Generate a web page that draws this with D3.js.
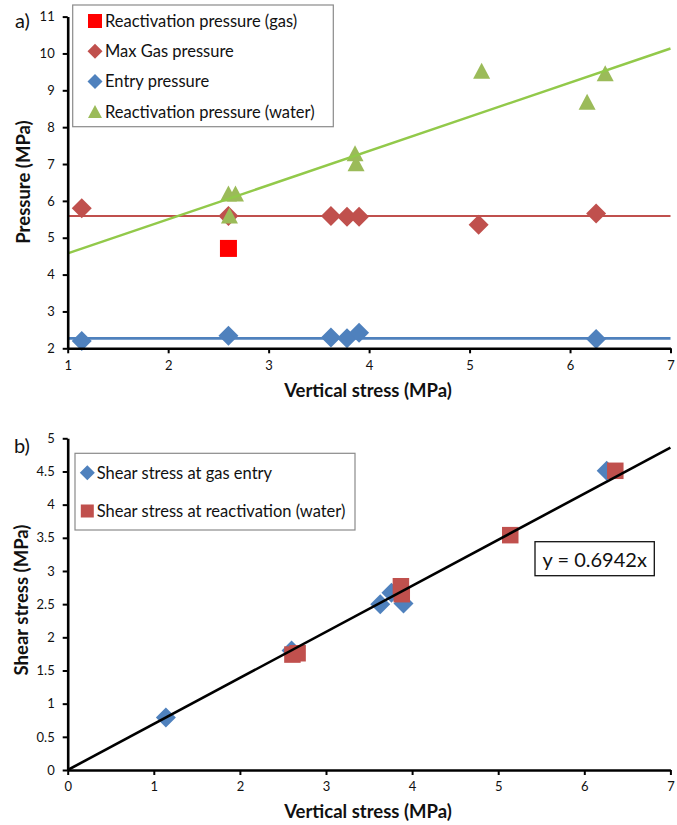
<!DOCTYPE html>
<html>
<head>
<meta charset="utf-8">
<script src="https://cdn.jsdelivr.net/npm/d3@7"></script>
<style>
  html, body { margin: 0; padding: 0; background: #fff; }
  svg { display: block; font-family: Lato, "Open Sans", sans-serif; }
  .axis path.domain { stroke: #000; stroke-width: 2.6px; }
  .axis line { stroke: #000; stroke-width: 2px; }
  .axis text { font-size: 13px; fill: #111; font-family: Lato, "Open Sans", sans-serif; }
</style>
</head>
<body>
<svg id="chart" width="677" height="825"></svg>
<script>
// ---- Panel a: pressures vs vertical stress ----
const xGasReact = [2.60];
const yGasReact = [4.71];

const xMaxGas = [1.14, 2.60, 3.62, 3.78, 3.90, 5.09, 6.26];
const yMaxGas = [5.80, 5.59, 5.59, 5.57, 5.57, 5.35, 5.66];

const xEntry = [1.14, 2.60, 3.62, 3.78, 3.90, 6.26];
const yEntry = [2.20, 2.34, 2.29, 2.27, 2.42, 2.25];

const xWaterReact = [2.60, 2.67, 2.61, 3.86, 3.87, 5.12, 6.17, 6.35];
const yWaterReact = [6.20, 6.20, 5.60, 7.29, 7.02, 9.53, 8.69, 9.46];

// horizontal reference levels
const maxGasLevel = 5.59;
const entryLevel = 2.27;

const xTicksA = [1, 2, 3, 4, 5, 6, 7];
const yTicksA = [2, 3, 4, 5, 6, 7, 8, 9, 10, 11];

// ---- Panel b: shear stress vs vertical stress ----
const xShearEntry = [1.14, 2.60, 3.63, 3.76, 3.90, 6.26];
const yShearEntry = [0.79, 1.80, 2.50, 2.67, 2.51, 4.51];

const xShearReact = [2.61, 2.67, 3.87, 3.88, 5.14, 6.36];
const yShearReact = [1.74, 1.76, 2.77, 2.65, 3.54, 4.51];

const shearSlope = 0.6942;

const xTicksB = [0, 1, 2, 3, 4, 5, 6, 7];
const yTicksB = [0, 0.5, 1, 1.5, 2, 2.5, 3, 3.5, 4, 4.5, 5];

const C = {
  red: "#FF0000",
  brick: "#C0504D",
  blue: "#4F81BD",
  green: "#9BBB59",
  greenLine: "#92C94A"
};

const svg = d3.select("#chart");

function diamond(g, cx, cy, r, fill) {
  g.append("path")
    .attr("d", `M${cx},${cy - r}L${cx + r},${cy}L${cx},${cy + r}L${cx - r},${cy}Z`)
    .attr("fill", fill);
}
function square(g, cx, cy, s, fill) {
  g.append("rect").attr("x", cx - s / 2).attr("y", cy - s / 2)
    .attr("width", s).attr("height", s).attr("fill", fill);
}
function triangle(g, cx, cy, w, h, fill) {
  g.append("path")
    .attr("d", `M${cx},${cy - h / 2}L${cx + w / 2},${cy + h / 2}L${cx - w / 2},${cy + h / 2}Z`)
    .attr("fill", fill);
}

function drawAxes(x, y, xTicks, yTicks, yFmt) {
  const [y0] = y.range();
  const [x0] = x.range();
  svg.append("g").attr("class", "axis")
    .attr("transform", `translate(0,${y0})`)
    .call(d3.axisBottom(x).tickValues(xTicks).tickSize(5).tickSizeOuter(0).tickPadding(7).tickFormat(d3.format("d")));
  svg.append("g").attr("class", "axis")
    .attr("transform", `translate(${x0},0)`)
    .call(d3.axisLeft(y).tickValues(yTicks).tickSize(5).tickSizeOuter(0).tickPadding(8).tickFormat(yFmt));
}

const titleSize = 18.5;
const legendSize = 16.5;

// ================= Panel a =================
const xa = d3.scaleLinear().domain([1, 7]).range([67.7, 670.5]);
const ya = d3.scaleLinear().domain([2, 11]).range([348.3, 16.6]);

const ga = svg.append("g");

// least-squares trend for water reactivation pressure
const mx = d3.mean(xWaterReact), my = d3.mean(yWaterReact);
const sxy = d3.sum(xWaterReact, (v, i) => (v - mx) * (yWaterReact[i] - my));
const sxx = d3.sum(xWaterReact, v => (v - mx) * (v - mx));
const slopeA = sxy / sxx, interA = my - slopeA * mx;

ga.append("line")
  .attr("x1", xa(1)).attr("x2", xa(7))
  .attr("y1", ya(maxGasLevel)).attr("y2", ya(maxGasLevel))
  .attr("stroke", C.brick).attr("stroke-width", 2.2);
ga.append("line")
  .attr("x1", xa(1)).attr("x2", xa(7))
  .attr("y1", ya(entryLevel)).attr("y2", ya(entryLevel))
  .attr("stroke", C.blue).attr("stroke-width", 2.6);

drawAxes(xa, ya, xTicksA, yTicksA, d3.format("d"));

xEntry.forEach((v, i) => diamond(ga, xa(v), ya(yEntry[i]), 10, C.blue));
xMaxGas.forEach((v, i) => diamond(ga, xa(v), ya(yMaxGas[i]), 10, C.brick));
xGasReact.forEach((v, i) => square(ga, xa(v), ya(yGasReact[i]), 17, C.red));
xWaterReact.forEach((v, i) => triangle(ga, xa(v), ya(yWaterReact[i]), 17, 16, C.green));

ga.append("line")
  .attr("x1", xa(1)).attr("x2", xa(7))
  .attr("y1", ya(interA + slopeA * 1)).attr("y2", ya(interA + slopeA * 7))
  .attr("stroke", C.greenLine).attr("stroke-width", 2.4);

// legend a
const la = svg.append("g");
la.append("rect").attr("x", 72.7).attr("y", 5).attr("width", 260.6).attr("height", 121.7)
  .attr("fill", "#fff").attr("stroke", "#8a8a8a").attr("stroke-width", 1.2);
const legA = [
  { label: "Reactivation pressure (gas)", kind: "square", color: C.red },
  { label: "Max Gas pressure", kind: "diamond", color: C.brick },
  { label: "Entry pressure", kind: "diamond", color: C.blue },
  { label: "Reactivation pressure (water)", kind: "triangle", color: C.green }
];
legA.forEach((d, i) => {
  const cy = 21 + i * 30.2;
  if (d.kind === "square") square(la, 95, cy, 14, d.color);
  else if (d.kind === "diamond") diamond(la, 95, cy, 7.5, d.color);
  else triangle(la, 95, cy, 14, 13, d.color);
  la.append("text").attr("x", 105).attr("y", cy + 6).attr("font-size", legendSize)
    .attr("fill", "#111").text(d.label);
});

// titles a
svg.append("text").attr("x", 368).attr("y", 397).attr("text-anchor", "middle")
  .attr("font-size", titleSize).attr("font-weight", "bold").attr("fill", "#111").text("Vertical stress (MPa)");
svg.append("text").attr("transform", "translate(30,182) rotate(-90)").attr("text-anchor", "middle")
  .attr("font-size", titleSize).attr("font-weight", "bold").attr("fill", "#111").text("Pressure (MPa)");
svg.append("text").attr("x", 15).attr("y", 28).attr("font-size", 20).attr("fill", "#111").text("a)");

// ================= Panel b =================
const xb = d3.scaleLinear().domain([0, 7]).range([67.7, 670.4]);
const yb = d3.scaleLinear().domain([0, 5]).range([770, 438.3]);

const gb = svg.append("g");
drawAxes(xb, yb, xTicksB, yTicksB, d => (d === 0 ? "0" : d3.format("")(d)));

xShearEntry.forEach((v, i) => diamond(gb, xb(v), yb(yShearEntry[i]), 10, C.blue));
xShearReact.forEach((v, i) => square(gb, xb(v), yb(yShearReact[i]), 16.5, C.brick));

gb.append("line")
  .attr("x1", xb(0)).attr("x2", xb(7))
  .attr("y1", yb(0)).attr("y2", yb(shearSlope * 7))
  .attr("stroke", "#000").attr("stroke-width", 2.6);

// legend b
const lb = svg.append("g");
lb.append("rect").attr("x", 75).attr("y", 453.3).attr("width", 280).attr("height", 76.7)
  .attr("fill", "#fff").attr("stroke", "#8a8a8a").attr("stroke-width", 1.2);
const legB = [
  { label: "Shear stress at gas entry", kind: "diamond", color: C.blue },
  { label: "Shear stress at reactivation (water)", kind: "square", color: C.brick }
];
legB.forEach((d, i) => {
  const cy = 472.7 + i * 38.3;
  if (d.kind === "square") square(lb, 87.3, cy, 13, d.color);
  else diamond(lb, 87.3, cy, 7.5, d.color);
  lb.append("text").attr("x", 96.7).attr("y", cy + 6).attr("font-size", legendSize)
    .attr("fill", "#111").text(d.label);
});

// equation label
const eq = svg.append("g");
eq.append("rect").attr("x", 535).attr("y", 541.7).attr("width", 119.3).attr("height", 34)
  .attr("fill", "#fff").attr("stroke", "#111").attr("stroke-width", 1.3);
eq.append("text").attr("x", 594.7).attr("y", 566.5).attr("text-anchor", "middle")
  .attr("font-size", 20).attr("fill", "#111").text(`y = ${shearSlope}x`);

// titles b
svg.append("text").attr("x", 368).attr("y", 818).attr("text-anchor", "middle")
  .attr("font-size", titleSize).attr("font-weight", "bold").attr("fill", "#111").text("Vertical stress (MPa)");
svg.append("text").attr("transform", "translate(28,600) rotate(-90)").attr("text-anchor", "middle")
  .attr("font-size", titleSize).attr("font-weight", "bold").attr("fill", "#111").text("Shear stress (MPa)");
svg.append("text").attr("x", 14).attr("y", 453).attr("font-size", 20).attr("fill", "#111").text("b)");
</script>
</body>
</html>
